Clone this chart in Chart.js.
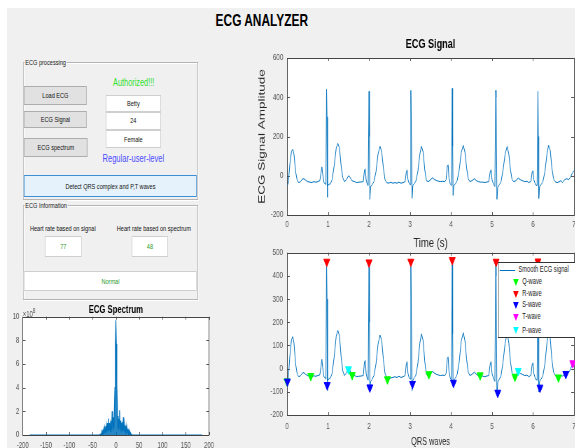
<!DOCTYPE html>
<html>
<head>
<meta charset="utf-8">
<script src="https://cdn.jsdelivr.net/npm/chart.js@4.4.1/dist/chart.umd.min.js"></script>
<style>
  html, body { margin: 0; padding: 0; background: #fff; width: 575px; height: 448px; overflow: hidden; }
  /* the figure is laid out wide and squeezed, like the screenshot */
  #fig { position: absolute; left: 0; top: 0; width: 822px; height: 448px; transform: scaleX(0.7); transform-origin: 0 0;
         font-family: "Liberation Sans", Arial, sans-serif; }
  #bg { position: absolute; left: 10px; top: 8px; right: 0; bottom: 0; background: #f0f0f0; }
  .panel { position: absolute; border: 1px solid #b4b4b4; box-shadow: inset 1px 1px 0 #fff, 1px 1px 0 #fff; }
  .panel .cap { position: absolute; left: 1px; top: -6px; padding: 0 1px; background: #f0f0f0; font-size: 8px; line-height: 11px; color: #222; white-space: nowrap; }
  .btn { position: absolute; box-sizing: border-box; background: #e1e1e1; border: 1px solid #adadad; font-size: 8px; color: #111;
         display: flex; align-items: center; justify-content: center; white-space: nowrap; }
  .box { position: absolute; box-sizing: border-box; background: #fff; border: 1px solid #cfcfcf; font-size: 8px; color: #111;
         display: flex; align-items: center; justify-content: center; white-space: nowrap; }
  .lbl { position: absolute; white-space: nowrap; transform: translate(-50%, -50%); }
  canvas { position: absolute; }
  #legend { position: absolute; left: 711px; top: 262px; width: 118px; height: 76px; box-sizing: border-box; background: #fff;
            border: 1px solid #333; font-size: 8.2px; color: #222; z-index: 5; }
  #legend span { position: absolute; white-space: nowrap; }
  .tri { width: 0; height: 0; border-left: 4.5px solid transparent; border-right: 4.5px solid transparent; border-top: 7px solid; }
</style>
</head>
<body>
<div id="fig">
  <div id="bg"></div>

  <div class="lbl" style="left:374px;top:20.5px;font-size:17px;font-weight:bold;color:#000">ECG ANALYZER</div>

  <!-- ECG processing panel -->
  <div class="panel" style="left:33px;top:62px;width:248px;height:136px"><span class="cap">ECG processing</span></div>
  <div class="lbl" style="left:191px;top:81.7px;font-size:10.5px;color:#2ee02e">Authorized!!!</div>
  <div class="btn" style="left:34.3px;top:86px;width:89.6px;height:19.3px">Load ECG</div>
  <div class="btn" style="left:34.3px;top:111px;width:89.6px;height:17.3px">ECG Signal</div>
  <div class="btn" style="left:34.3px;top:137.7px;width:90.9px;height:19px">ECG spectrum</div>
  <div class="box" style="left:151px;top:95px;width:79px;height:16.5px">Betty</div>
  <div class="box" style="left:151px;top:111.5px;width:79px;height:18px">24</div>
  <div class="box" style="left:151px;top:130px;width:79px;height:18.3px">Female</div>
  <div class="lbl" style="left:190.5px;top:157.7px;font-size:10.8px;color:#4b4bff">Regular-user-level</div>
  <div class="btn" style="left:34.3px;top:175px;width:247px;height:22.3px;background:#e5f1fb;border-color:#3c8fd6">Detect QRS complex and P,T waves</div>

  <!-- ECG information panel -->
  <div class="panel" style="left:33px;top:205px;width:248px;height:92.7px"><span class="cap">ECG Information</span></div>
  <div class="lbl" style="left:89.7px;top:227.7px;font-size:8px;color:#111">Heart rate based on signal</div>
  <div class="lbl" style="left:219.7px;top:227.7px;font-size:8px;color:#111">Heart rate based on spectrum</div>
  <div class="box" style="left:64.3px;top:236px;width:52.4px;height:20.7px;color:#2a9a2a">77</div>
  <div class="box" style="left:188.1px;top:236px;width:52.3px;height:20.7px;color:#2a9a2a">48</div>
  <div class="box" style="left:34.3px;top:271px;width:247px;height:20px;color:#2a9a2a">Normal</div>

  <canvas id="sig" width="486" height="225" style="left:357px;top:30px"></canvas>
  <canvas id="qrs" width="486" height="203" style="left:357px;top:245px"></canvas>
  <canvas id="spec" width="330" height="162" style="left:0px;top:298px"></canvas>
  <div class="lbl" style="left:32.4px;top:307px;transform:none;font-size:8.5px;color:#555">×10<sup style="font-size:7px">8</sup></div>

  <div id="legend">
    <span style="left:2.3px;top:7.3px;width:21.4px;height:0;border-top:1.3px solid #0072bd"></span>
    <span style="left:28.7px;top:2px">Smooth ECG signal</span>
    <span class="tri" style="left:20.5px;top:16px;border-top-color:#00ff00"></span>
    <span style="left:34px;top:14.3px">Q-wave</span>
    <span class="tri" style="left:20.5px;top:27.5px;border-top-color:#ff0000"></span>
    <span style="left:34px;top:25.7px">R-wave</span>
    <span class="tri" style="left:20.5px;top:39px;border-top-color:#0000ff"></span>
    <span style="left:34px;top:37.3px">S-wave</span>
    <span class="tri" style="left:20.5px;top:51px;border-top-color:#ff00ff"></span>
    <span style="left:34px;top:49.3px">T-wave</span>
    <span class="tri" style="left:20.5px;top:64px;border-top-color:#00ffff"></span>
    <span style="left:34px;top:62.5px">P-wave</span>
  </div>
</div>

<script>
// ECG signal (seconds, amplitude)
const ecgTime = [
  0.00,0.03,0.07,0.11,0.14,0.17,0.21,0.25,0.29,0.33,0.37,0.41,0.45,0.50,0.55,0.60,0.65,0.70,0.75,0.80,
  0.83,0.85,0.87,0.90,0.93,0.95,0.965,0.975,0.985,0.99,1.02,1.06,1.10,1.15,1.20,1.24,1.28,1.32,1.36,1.40,1.45,1.50,1.53,1.58,1.65,1.70,1.75,1.80,
  1.86,1.89,1.91,1.93,1.96,1.98,2.00,2.01,2.02,2.04,2.08,2.12,2.17,2.22,2.27,2.31,2.35,2.39,2.43,2.48,2.53,2.58,2.63,2.68,2.73,2.78,2.83,
  2.88,2.91,2.93,2.95,2.98,3.01,3.02,3.03,3.05,3.07,3.10,3.14,3.19,3.24,3.28,3.32,3.36,3.40,3.45,3.50,3.55,3.60,3.65,3.70,3.75,3.80,3.85,
  3.88,3.91,3.93,3.95,3.98,4.01,4.03,4.04,4.05,4.07,4.11,4.15,4.20,4.25,4.30,4.34,4.38,4.42,4.46,4.51,4.57,4.62,4.67,4.72,4.77,4.82,4.87,
  4.92,4.96,4.98,5.00,5.04,5.07,5.09,5.10,5.12,5.14,5.18,5.22,5.27,5.32,5.37,5.41,5.45,5.49,5.53,5.58,5.64,5.69,5.74,5.80,5.85,5.90,5.95,
  5.98,6.00,6.02,6.06,6.10,6.12,6.13,6.14,6.16,6.20,6.24,6.29,6.34,6.38,6.42,6.46,6.50,6.54,6.59,6.64,6.68,6.72,6.77,6.82,6.87,6.92,6.96,7.00
];
const ecgAmp = [
  -50,-40,60,125,135,110,20,-25,-35,-30,-18,-15,-22,-30,-32,-35,-30,-33,-30,-25,
  15,45,10,-35,-40,-45,440,300,-110,-50,-45,-40,-20,50,140,165,140,50,-10,-30,-20,0,-5,-25,-30,-35,-33,-32,
  -30,30,35,-20,-45,-50,430,200,-120,-55,-45,-30,20,110,150,120,40,-20,-35,-38,-33,-38,-35,-38,-33,-38,-35,
  -30,20,30,-20,-40,-45,435,300,-115,-50,-40,-30,20,110,150,120,30,-25,-30,-20,-10,-20,-25,-28,-30,-28,-30,
  -20,50,55,-10,-40,-50,445,150,-100,-50,-40,-25,30,120,155,120,40,-15,-30,-25,-15,-25,-30,-33,-32,-35,-32,
  -30,25,30,-20,-45,-55,435,400,-120,-60,-45,-30,30,110,150,110,30,-20,-30,-25,-12,-20,-25,-30,-28,-35,-28,
  20,25,-20,-45,-50,430,200,-115,-55,-45,-30,20,110,155,130,40,-15,-30,-35,-30,-25,-35,-20,-15,-20,-5,15,25
];
// smoothed signal in the lower plot, same time base
const smoothAmp = [
  -55,-45,55,125,138,110,20,-25,-35,-30,-20,-17,-24,-30,-32,-35,-31,-33,-30,-27,
  10,40,5,-35,-40,-45,460,300,-95,-50,-45,-40,-20,50,140,165,140,50,-10,-30,-18,0,-8,-25,-30,-35,-33,-32,
  -30,30,35,-20,-45,-50,458,200,-90,-55,-45,-30,20,105,145,120,40,-20,-38,-45,-40,-38,-35,-38,-33,-38,-35,
  -30,20,30,-20,-40,-45,461,300,-95,-50,-40,-30,20,110,150,120,30,-25,-27,-20,-12,-20,-25,-28,-30,-28,-30,
  -20,45,50,-10,-40,-50,468,150,-75,-50,-40,-25,30,120,155,120,40,-15,-30,-25,-15,-25,-30,-30,-32,-35,-32,
  -30,25,30,-20,-45,-55,461,400,-115,-60,-45,-30,30,110,155,110,30,-20,-32,-30,-10,-20,-25,-30,-28,-35,-28,
  20,25,-20,-45,-50,462,200,-100,-55,-45,-30,20,110,160,130,40,-15,-30,-35,-38,-30,-32,-25,-20,-18,0,20,25
];

// detected waves
const qTime = [0.00, 0.58, 1.59, 2.45, 3.46, 4.71, 5.56, 6.62];
const qAmp  = [-55, -32, -28, -46, -24, -29, -35, -38];
const rTime = [0.97, 2.00, 3.02, 4.03, 5.10, 6.12];
const rAmp  = [461, 458, 461, 468, 461, 462];
const sTime = [0.01, 0.98, 2.02, 3.06, 4.06, 5.14, 6.17, 6.80];
const sAmp  = [-56, -71, -81, -66, -61, -104, -82, -23];
const tTime = [6.97];
const tAmp  = [23];
const pTime = [1.50, 5.64];
const pAmp  = [-3, -10];

// spectrum (magnitude in units of 1e8)
const specFreq = [
  -185,
  -36,-35,-34,-33,-32,-31,-30,-29,-28,-27,-26,-25,-24,-23,-22,-21,-20,-19,-18,-17,-16,-15,-14,-13,-12,-11,-10,-9,-8,-7,-6,-5,-4,-3,-2,-1,
  0,
  1,2,3,4,5,6,7,8,9,10,11,12,13,14,15,16,17,18,19,20,21,22,23,24,25,26,27,28,29,30,31,32,33,34,35,36,
  185
];
const specMag = [
  0,
  0,0,0.04,0.02,0.1,0.05,0.3,0.1,0.45,0.1,0.5,0.2,0.6,0.2,0.75,0.2,0.8,0.3,1.0,0.4,1.4,0.3,1.0,0.4,0.9,0.3,1.2,0.5,2.0,1.2,0.4,1.5,0.6,2.5,4.0,7.6,
  9.7,
  7.7,4.2,2.6,0.6,1.6,0.4,1.3,2.1,0.5,1.2,0.3,1.0,0.4,1.1,0.3,1.5,0.4,0.9,0.3,0.8,0.2,0.7,0.2,0.6,0.2,0.5,0.1,0.4,0.1,0.25,0.05,0.12,0.02,0.05,0,0,
  0
];

// tick labels
const signalXTicks = [0, 1, 2, 3, 4, 5, 6, 7];
const signalYTicks = [-200, 0, 200, 400, 600];
const qrsYTicks = [-200, -100, 0, 100, 200, 300, 400, 500];
const specXTicks = [-200, -150, -100, -50, 0, 50, 100, 150, 200];
const specYTicks = [0, 2, 4, 6, 8, 10];

Chart.defaults.font.family = '"Liberation Sans", Arial, sans-serif';

const pts = (xs, ys) => xs.map((x, i) => ({x: x, y: ys[i]}));
const fixedTicks = list => axis => { axis.ticks = list.map(v => ({value: v})); };
const sizeX = h => s => { s.height = h; s.paddingLeft = 0; s.paddingRight = 0; };
const sizeY = w => s => { s.width = w; s.paddingTop = 0; s.paddingBottom = 0; };

// white axes with a box and inward ticks, drawn under the data
const matlabAxes = {
  id: 'matlabAxes',
  beforeDatasetsDraw(chart) {
    const {ctx, chartArea: a, scales: {x, y}} = chart;
    ctx.save();
    ctx.fillStyle = '#fff';
    ctx.fillRect(a.left, a.top, a.right - a.left, a.bottom - a.top);
    ctx.strokeStyle = '#555';
    ctx.lineWidth = 1;
    ctx.beginPath();
    x.ticks.forEach(t => {
      const px = Math.round(x.getPixelForValue(t.value)) + 0.5;
      ctx.moveTo(px, a.bottom); ctx.lineTo(px, a.bottom - 3);
      ctx.moveTo(px, a.top); ctx.lineTo(px, a.top + 3);
    });
    y.ticks.forEach(t => {
      const py = Math.round(y.getPixelForValue(t.value)) + 0.5;
      ctx.moveTo(a.left, py); ctx.lineTo(a.left + 4, py);
      ctx.moveTo(a.right, py); ctx.lineTo(a.right - 4, py);
    });
    ctx.stroke();
    ctx.strokeStyle = '#444';
    ctx.strokeRect(Math.round(a.left) + 0.5, Math.round(a.top) + 0.5, Math.round(a.right - a.left), Math.round(a.bottom - a.top));
    ctx.restore();
  }
};

const base = {
  animation: false,
  responsive: false,
  events: []
};
const tickFont = size => ({font: {size: size}, color: '#555', maxRotation: 0, autoSkip: false});

new Chart(document.getElementById('sig'), {
  type: 'line',
  data: {
    datasets: [{data: pts(ecgTime, ecgAmp), borderColor: '#0072bd', borderWidth: 1, pointRadius: 0, tension: 0}]
  },
  options: Object.assign({}, base, {
    layout: {padding: {left: 0, right: 23, top: 0, bottom: 0}},
    plugins: {
      legend: {display: false}, tooltip: {enabled: false},
      title: {display: true, text: 'ECG Signal', fullSize: false, color: '#000',
              font: {size: 13, weight: 'bold'}, padding: {top: 6.8, bottom: 5.6}}
    },
    scales: {
      x: {type: 'linear', min: 0, max: 7, grid: {display: false, drawTicks: false}, border: {display: false},
          afterBuildTicks: fixedTicks(signalXTicks), afterFit: sizeX(40),
          ticks: Object.assign(tickFont(9), {padding: 4.6}),
          title: {display: true, text: 'Time (s)', color: '#262626', font: {size: 13.5}, padding: {top: 0, bottom: 4.1}}},
      y: {type: 'linear', min: -200, max: 600, grid: {display: false, drawTicks: false}, border: {display: false},
          afterBuildTicks: fixedTicks(signalYTicks), afterFit: sizeY(53),
          ticks: Object.assign(tickFont(9), {padding: 5.3}),
          title: {display: true, text: 'ECG Signal Amplitude', color: '#262626', font: {size: 13.5}, padding: {top: 9.2, bottom: 0}}}
    }
  }),
  plugins: [matlabAxes]
});

const marker = (label, xs, ys, color, order) => ({
  label: label, data: pts(xs, ys), showLine: false, order: order, clip: false,
  pointStyle: 'triangle', rotation: 180, pointRadius: 5,
  pointBackgroundColor: color, pointBorderColor: color, pointBorderWidth: 1
});

new Chart(document.getElementById('qrs'), {
  type: 'line',
  data: {
    datasets: [
      {label: 'Smooth ECG signal', data: pts(ecgTime, smoothAmp), borderColor: '#0072bd', borderWidth: 1,
       pointRadius: 0, tension: 0, order: 10},
      marker('Q-wave', qTime, qAmp, '#00ff00', 5),
      marker('R-wave', rTime, rAmp, '#ff0000', 4),
      marker('S-wave', sTime, sAmp, '#0000ff', 3),
      marker('T-wave', tTime, tAmp, '#ff00ff', 2),
      marker('P-wave', pTime, pAmp, '#00ffff', 1)
    ]
  },
  options: Object.assign({}, base, {
    layout: {padding: {left: 0, right: 23, top: 7.7, bottom: 0}},
    plugins: {legend: {display: false}, tooltip: {enabled: false}},
    scales: {
      x: {type: 'linear', min: 0, max: 7, grid: {display: false, drawTicks: false}, border: {display: false},
          afterBuildTicks: fixedTicks(signalXTicks), afterFit: sizeX(33),
          ticks: Object.assign(tickFont(9), {padding: 6.3}),
          title: {display: true, text: 'QRS waves', color: '#262626', font: {size: 10.5}, padding: {top: 0, bottom: 0}}},
      y: {type: 'linear', min: -200, max: 500, grid: {display: false, drawTicks: false}, border: {display: false},
          afterBuildTicks: fixedTicks(qrsYTicks), afterFit: sizeY(53),
          ticks: Object.assign(tickFont(9), {padding: 5.7})}
    }
  }),
  plugins: [matlabAxes]
});

new Chart(document.getElementById('spec'), {
  type: 'line',
  data: {
    datasets: [{data: pts(specFreq, specMag), borderColor: '#0072bd', borderWidth: 1.2, pointRadius: 0, tension: 0,
                fill: 'origin', backgroundColor: 'rgba(0,114,189,0.85)'}]
  },
  options: Object.assign({}, base, {
    layout: {padding: {left: 0, right: 31.4, top: 0, bottom: 0}},
    plugins: {
      legend: {display: false}, tooltip: {enabled: false},
      title: {display: true, text: 'ECG Spectrum', fullSize: false, color: '#000',
              font: {size: 11, weight: 'bold'}, padding: {top: 5.4, bottom: 0.1}}
    },
    scales: {
      x: {type: 'linear', min: -200, max: 200, grid: {display: false, drawTicks: false}, border: {display: false},
          afterBuildTicks: fixedTicks(specXTicks), afterFit: sizeX(25),
          ticks: Object.assign(tickFont(8.5), {padding: 5.9})},
      y: {type: 'linear', min: 0, max: 10, grid: {display: false, drawTicks: false}, border: {display: false},
          afterBuildTicks: fixedTicks(specYTicks), afterFit: sizeY(32.4),
          ticks: Object.assign(tickFont(8.5), {padding: 4.8})}
    }
  }),
  plugins: [matlabAxes]
});
</script>
</body>
</html>
